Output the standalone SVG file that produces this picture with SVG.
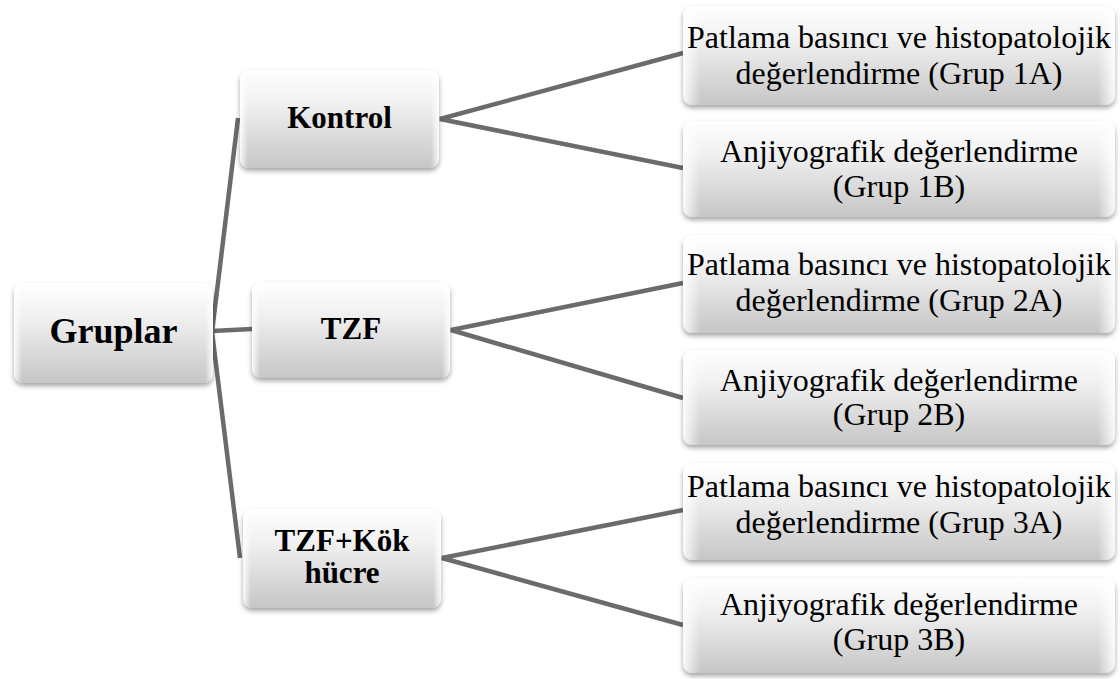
<svg xmlns="http://www.w3.org/2000/svg" width="1120" height="679" viewBox="0 0 1120 679">
<defs>
<linearGradient id="g" x1="0" y1="0" x2="0" y2="1">
<stop offset="0" stop-color="#ffffff"/>
<stop offset="0.35" stop-color="#f0f0f0"/>
<stop offset="1" stop-color="#c6c6c6"/>
</linearGradient>
<linearGradient id="gl" x1="0" y1="0" x2="1" y2="0">
<stop offset="0" stop-color="#ffffff" stop-opacity="0.9"/>
<stop offset="0.04" stop-color="#ffffff" stop-opacity="0"/>
<stop offset="0.96" stop-color="#ffffff" stop-opacity="0"/>
<stop offset="1" stop-color="#ffffff" stop-opacity="0.9"/>
</linearGradient>
<filter id="sh" x="-10%" y="-10%" width="120%" height="130%">
<feDropShadow dx="0" dy="3" stdDeviation="2.5" flood-color="#000" flood-opacity="0.35"/>
</filter>
</defs>
<style>
.box{fill:url(#g);filter:url(#sh)}
.gl{fill:url(#gl)}
.edge{stroke:#6b6b6b;stroke-width:4.5;fill:none;stroke-linecap:butt}
.b{font-family:"Liberation Serif",serif;font-weight:bold;fill:#000;text-anchor:middle}
.r{font-family:"Liberation Serif",serif;font-size:32px;fill:#000;text-anchor:middle}
</style>
<rect width="1120" height="679" fill="#fff"/>
<g id="connectors">
<polyline class="edge" points="238,118 212,332 240,558"/>
<line class="edge" x1="212" y1="331" x2="252" y2="329"/>
<polyline class="edge" points="683,53 440,119 683,168"/>
<polyline class="edge" points="683,283 451,330 683,398"/>
<polyline class="edge" points="683,510 442,558 683,625"/>
</g>
<g id="gruplar">
<rect class="box" x="14" y="283" width="199" height="100" rx="9"/>
<rect class="gl" x="14" y="283" width="199" height="100" rx="9"/>
<text class="b" x="113.5" y="343" font-size="36">Gruplar</text>
</g>
<g id="kontrol">
<rect class="box" x="240" y="70" width="199" height="98" rx="9"/>
<rect class="gl" x="240" y="70" width="199" height="98" rx="9"/>
<text class="b" x="339.5" y="128" font-size="31">Kontrol</text>
</g>
<g id="tzf">
<rect class="box" x="252" y="282" width="198" height="96" rx="9"/>
<rect class="gl" x="252" y="282" width="198" height="96" rx="9"/>
<text class="b" x="351" y="339" font-size="31">TZF</text>
</g>
<g id="tzfkok">
<rect class="box" x="243" y="509" width="198" height="99" rx="9"/>
<rect class="gl" x="243" y="509" width="198" height="99" rx="9"/>
<text class="b" x="342" y="551" font-size="31">TZF+Kök</text>
<text class="b" x="342" y="583" font-size="31">hücre</text>
</g>
<g id="g1a">
<rect class="box" x="683" y="6" width="432" height="99" rx="9"/>
<rect class="gl" x="683" y="6" width="432" height="99" rx="9"/>
<text class="r" x="899" y="48">Patlama basıncı ve histopatolojik</text>
<text class="r" x="899" y="84">değerlendirme (Grup 1A)</text>
</g>
<g id="g1b">
<rect class="box" x="683" y="121" width="432" height="96" rx="9"/>
<rect class="gl" x="683" y="121" width="432" height="96" rx="9"/>
<text class="r" x="899" y="162">Anjiyografik değerlendirme</text>
<text class="r" x="899" y="197">(Grup 1B)</text>
</g>
<g id="g2a">
<rect class="box" x="683" y="235" width="432" height="98" rx="9"/>
<rect class="gl" x="683" y="235" width="432" height="98" rx="9"/>
<text class="r" x="899" y="275">Patlama basıncı ve histopatolojik</text>
<text class="r" x="899" y="311">değerlendirme (Grup 2A)</text>
</g>
<g id="g2b">
<rect class="box" x="683" y="350" width="432" height="95" rx="9"/>
<rect class="gl" x="683" y="350" width="432" height="95" rx="9"/>
<text class="r" x="899" y="391">Anjiyografik değerlendirme</text>
<text class="r" x="899" y="425">(Grup 2B)</text>
</g>
<g id="g3a">
<rect class="box" x="683" y="463" width="432" height="97" rx="9"/>
<rect class="gl" x="683" y="463" width="432" height="97" rx="9"/>
<text class="r" x="899" y="497">Patlama basıncı ve histopatolojik</text>
<text class="r" x="899" y="533">değerlendirme (Grup 3A)</text>
</g>
<g id="g3b">
<rect class="box" x="683" y="578" width="432" height="95" rx="9"/>
<rect class="gl" x="683" y="578" width="432" height="95" rx="9"/>
<text class="r" x="899" y="615">Anjiyografik değerlendirme</text>
<text class="r" x="899" y="650">(Grup 3B)</text>
</g>
</svg>
